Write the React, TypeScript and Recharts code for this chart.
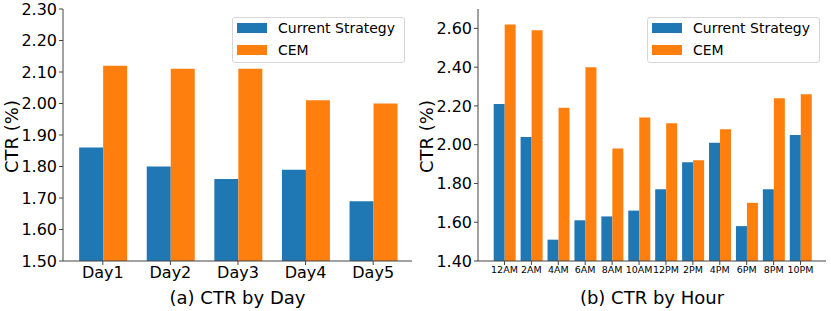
import { BarChart, Bar, XAxis, YAxis, Legend } from 'recharts'

const days = ['Day1', 'Day2', 'Day3', 'Day4', 'Day5']
const dayCurrent = [1.86, 1.80, 1.76, 1.79, 1.69]
const dayCem = [2.12, 2.11, 2.11, 2.01, 2.00]
const dayTicks = [1.5, 1.6, 1.7, 1.8, 1.9, 2.0, 2.1, 2.2, 2.3]

const hours = ['12AM', '2AM', '4AM', '6AM', '8AM', '10AM', '12PM', '2PM', '4PM', '6PM', '8PM', '10PM']
const hourCurrent = [2.21, 2.04, 1.51, 1.61, 1.63, 1.66, 1.77, 1.91, 2.01, 1.58, 1.77, 2.05]
const hourCem = [2.62, 2.59, 2.19, 2.40, 1.98, 2.14, 2.11, 1.92, 2.08, 1.70, 2.24, 2.26]
const hourTicks = [1.4, 1.6, 1.8, 2.0, 2.2, 2.4, 2.6]

const seriesNames = ['Current Strategy', 'CEM']

const BLUE = '#1f77b4'
const ORANGE = '#ff7f0e'
const SPINE = '#444'

function LegendBox(props: any) {
    // keep the plotting order, recharts sorts by name otherwise
    const items = [...(props.payload || [])].sort(
        (a: any, b: any) => seriesNames.indexOf(a.value) - seriesNames.indexOf(b.value)
    )
    return (
        <div style={{
            position: 'relative', width: 173, height: 46, boxSizing: 'border-box',
            border: '1px solid #d6d6d6', borderRadius: 3, background: 'rgba(255,255,255,0.8)',
        }}>
            {items.map((item: any, i: number) => (
                <div key={item.value} style={{
                    position: 'absolute', left: 4, top: 3 + i * 21.5, height: 14,
                    display: 'flex', alignItems: 'center', whiteSpace: 'nowrap',
                }}>
                    <span style={{ display: 'inline-block', width: 30, height: 10, background: item.color }} />
                    <span style={{ marginLeft: 11, fontSize: 14, lineHeight: '14px', color: '#000' }}>{item.value}</span>
                </div>
            ))}
        </div>
    )
}

interface CtrChartProps {
    labels: string[]
    current: number[]
    cem: number[]
    ticks: number[]
    domain: [number, number]
    width: number
    marginRight: number
    padding: { left: number, right: number }
    categoryGap: string
    tickFontSize: number
    tickOffset: number
    title: string
}

function CtrChart(p: CtrChartProps) {
    const data = p.labels.map((label, i) => ({ label, current: p.current[i], cem: p.cem[i] }))
    const plotLeft = 63
    const plotCenter = (plotLeft + p.width - p.marginRight) / 2
    return (
        <div style={{ position: 'relative', width: p.width, height: 311 }}>
            <BarChart
                width={p.width}
                height={311}
                data={data}
                margin={{ top: 9, right: p.marginRight, bottom: 0, left: 0 }}
                barCategoryGap={p.categoryGap}
                barGap={0}
            >
                <XAxis
                    dataKey="label"
                    height={50}
                    interval={0}
                    padding={p.padding}
                    axisLine={{ stroke: SPINE }}
                    tickLine={{ stroke: SPINE }}
                    tickSize={4}
                    tickMargin={p.tickOffset}
                    tick={{ fill: '#000', fontSize: p.tickFontSize }}
                />
                <XAxis xAxisId="top" dataKey="label" orientation="top" height={0} tick={false} tickLine={false} axisLine={{ stroke: SPINE }} />
                <YAxis
                    width={plotLeft}
                    domain={p.domain}
                    ticks={p.ticks}
                    allowDataOverflow
                    axisLine={{ stroke: SPINE }}
                    tickLine={{ stroke: SPINE }}
                    tickSize={4}
                    tickMargin={2}
                    tick={{ fill: '#000', fontSize: 16 }}
                    tickFormatter={(v: number) => v.toFixed(2)}
                />
                <YAxis yAxisId="right" orientation="right" width={0} domain={p.domain} tick={false} tickLine={false} axisLine={{ stroke: SPINE }} />
                <Legend
                    layout="vertical"
                    align="center"
                    verticalAlign="middle"
                    wrapperStyle={{ left: 232, top: 17, width: 173 }}
                    content={LegendBox}
                />
                <Bar dataKey="current" name={seriesNames[0]} fill={BLUE} isAnimationActive={false} />
                <Bar dataKey="cem" name={seriesNames[1]} fill={ORANGE} isAnimationActive={false} />
            </BarChart>
            <svg width={p.width} height={311} style={{ position: 'absolute', left: 0, top: 0, pointerEvents: 'none' }}>
                <text x={18} y={136.5} fontSize={18} textAnchor="middle" fill="#000" transform="rotate(-90, 18, 136.5)">CTR (%)</text>
                <text x={plotCenter} y={304} fontSize={18} textAnchor="middle" fill="#000">{p.title}</text>
            </svg>
        </div>
    )
}

export default function App() {
    return (
        <div style={{ position: 'absolute', left: 0, top: 0, width: 831, height: 311, background: '#fff', fontFamily: '"DejaVu Sans", sans-serif' }}>
            <div style={{ position: 'absolute', left: 0, top: 0 }}>
                <CtrChart
                    labels={days}
                    current={dayCurrent}
                    cem={dayCem}
                    ticks={dayTicks}
                    domain={[1.5, 2.3]}
                    width={415}
                    marginRight={3}
                    padding={{ left: 6, right: 5 }}
                    categoryGap="15%"
                    tickFontSize={16}
                    tickOffset={2}
                    title="(a) CTR by Day"
                />
            </div>
            <div style={{ position: 'absolute', left: 415, top: 0 }}>
                <CtrChart
                    labels={hours}
                    current={hourCurrent}
                    cem={hourCem}
                    ticks={hourTicks}
                    domain={[1.4, 2.7]}
                    width={416}
                    marginRight={5}
                    padding={{ left: 13, right: 12 }}
                    categoryGap="10%"
                    tickFontSize={9.5}
                    tickOffset={1}
                    title="(b) CTR by Hour"
                />
            </div>
        </div>
    )
}
